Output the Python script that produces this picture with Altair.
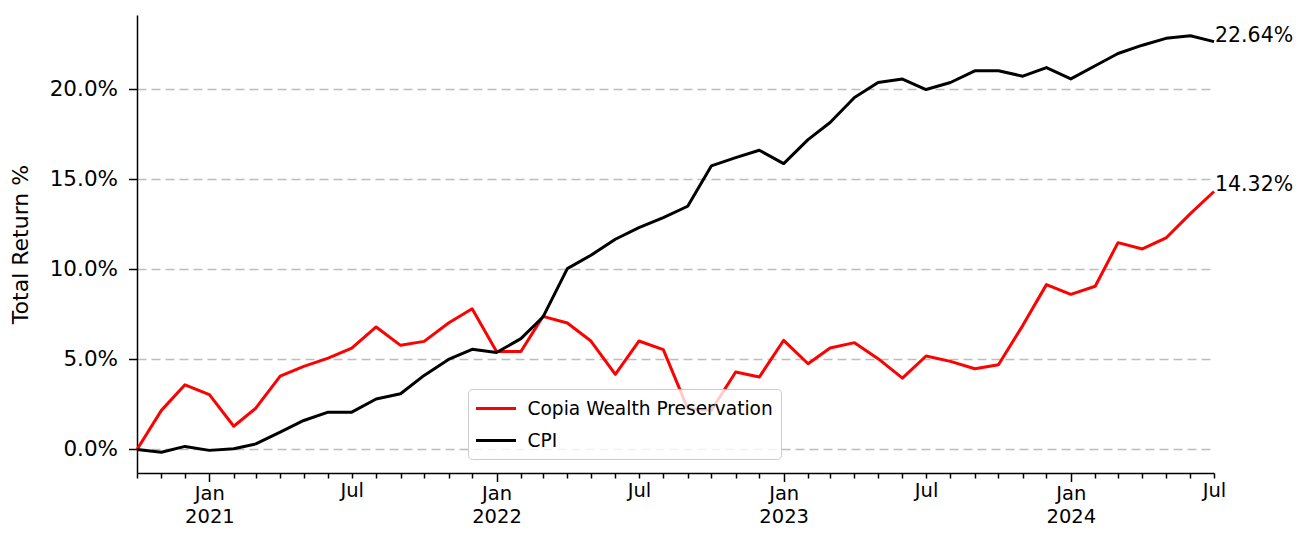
import altair as alt
import pandas as pd

# Monthly observations, Oct 2020 .. Jul 2024
months = pd.date_range("2020-10-01", "2024-07-01", freq="MS").strftime("%Y-%m-%d").tolist()

copia = [
    0.00, 2.17, 3.59,
    3.04, 1.29, 2.29, 4.07, 4.61, 5.07, 5.63, 6.80, 5.78, 6.00, 7.02, 7.81,
    5.44, 5.44, 7.39, 7.02, 6.02, 4.17, 6.02, 5.54, 2.28, 2.17, 4.30, 4.02,
    6.06, 4.76, 5.63, 5.93, 5.04, 3.96, 5.19, 4.89, 4.48, 4.70, 6.89, 9.15,
    8.61, 9.06, 11.48, 11.13, 11.74, 13.09, 14.32,
]
cpi = [
    0.00, -0.15, 0.17,
    -0.05, 0.04, 0.31, 0.96, 1.61, 2.07, 2.07, 2.80, 3.09, 4.11, 5.00, 5.56,
    5.38, 6.15, 7.35, 10.04, 10.78, 11.67, 12.31, 12.87, 13.50, 15.74, 16.20, 16.61,
    15.87, 17.20, 18.15, 19.54, 20.37, 20.56, 19.98, 20.37, 21.02, 21.02, 20.72, 21.20,
    20.57, 21.30, 21.98, 22.44, 22.82, 22.96, 22.64,
]
series_names = ["Copia Wealth Preservation", "CPI"]
series_colors = ["#ff0000", "#000000"]
y_ticks = [0, 5, 10, 15, 20]

n = len(months)
df = pd.DataFrame({
    "date": months * 2,
    "series": [series_names[0]] * n + [series_names[1]] * n,
    "value": copia + cpi,
})
end = pd.DataFrame({
    "date": [months[-1]] * 2,
    "series": series_names,
    "value": [copia[-1], cpi[-1]],
})
end["label"] = end["value"].map(lambda v: f"{v:.2f}%")

FONT = "DejaVu Sans"

x_scale = alt.Scale(
    type="utc",
    domain=[alt.DateTime(year=2020, month=10, date=1, utc=True),
            alt.DateTime(year=2024, month=7, date=1, utc=True)],
    nice=False,
)
y_scale = alt.Scale(domain=[-1.306, 24.116], nice=False, zero=False)

x_axis = alt.Axis(
    title=None,
    grid=False,
    tickCount={"interval": "month", "step": 1},
    labelExpr="utcmonth(datum.value) == 0 ? ['Jan', '' + utcyear(datum.value)] : (utcmonth(datum.value) == 6 ? 'Jul' : '')",
    tickSize={"condition": {"test": "utcmonth(datum.value) == 0", "value": 8.5}, "value": 5},
    labelPadding=3,
    labelLineHeight=23,
    labelFontSize=19.5,
    labelOverlap=False,
    labelFlush=False,
    labelBound=False,
    labelAngle=0,
)
y_axis = alt.Axis(
    title="Total Return %",
    values=y_ticks,
    labelExpr="format(datum.value, '.1f') + '%'",
    grid=True,
    gridDash=[9, 5],
    gridColor="#bdbdbd",
    gridWidth=1.3,
    tickSize=8.5,
    labelPadding=11,
    labelFontSize=21.5,
    titleFontSize=22,
    titlePadding=17,
)

legend = alt.Legend(
    title=None,
    orient="none",
    legendX=331,
    legendY=374,
    symbolType="M-2,0H2",
    symbolSize=400,
    symbolStrokeWidth=3,
    symbolOffset=8.5,
    labelOffset=20,
    labelFont=FONT,
    labelFontSize=18.6,
    labelColor="#000000",
    labelLimit=500,
    padding=8,
    rowPadding=10,
    fillColor="rgba(255,255,255,0.8)",
    strokeColor="#cccccc",
    cornerRadius=4,
)

base_x = alt.X("date:T", scale=x_scale, axis=x_axis)
base_y = alt.Y("value:Q", scale=y_scale, axis=y_axis)

lines = alt.Chart(df).mark_line(strokeWidth=3, strokeJoin="round").encode(
    x=base_x,
    y=base_y,
    color=alt.Color("series:N", scale=alt.Scale(domain=series_names, range=series_colors),
                    legend=legend, sort=series_names),
)

labels = alt.Chart(end).mark_text(
    align="left", baseline="alphabetic", dx=1, fontSize=20.5, font=FONT, color="#000000"
).encode(
    x=alt.X("date:T", scale=x_scale),
    y=alt.Y("value:Q", scale=y_scale),
    text="label:N",
)

chart = alt.layer(lines, labels).properties(
    width=1077,
    height=458,
    autosize=alt.AutoSizeParams(type="none"),
    padding={"left": 129, "top": 7, "right": 80, "bottom": 55},
).configure_view(stroke=None).configure_axis(
    labelFont=FONT,
    titleFont=FONT,
    labelColor="#000000",
    titleColor="#000000",
    titleFontWeight="normal",
    domainColor="#000000",
    domainWidth=1.5,
    tickColor="#000000",
    tickWidth=1.5,
)

chart.save("out.html", embed_options={"renderer": "svg", "actions": False})
